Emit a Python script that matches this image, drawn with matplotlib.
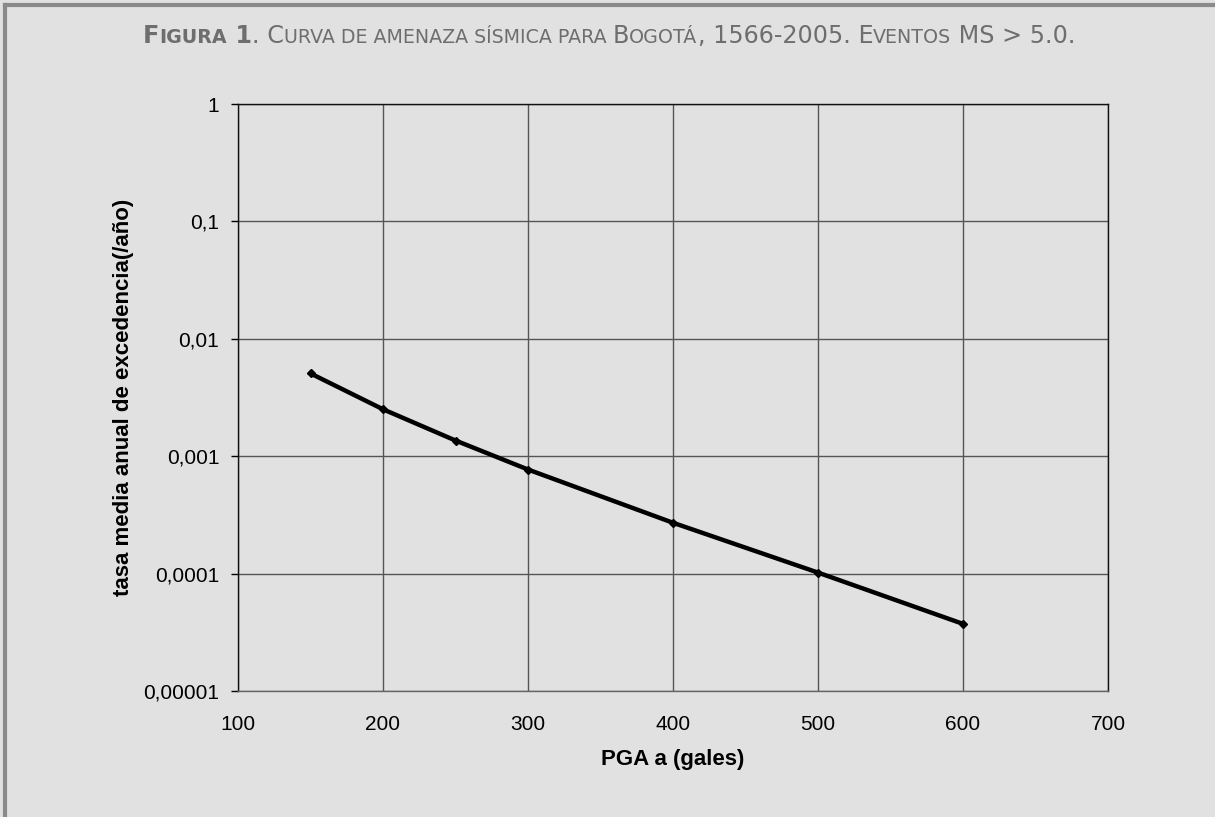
import matplotlib.pyplot as plt
from matplotlib.ticker import FixedLocator, FixedFormatter, NullLocator
from matplotlib.lines import Line2D

pga = [150, 200, 250, 300, 400, 500, 600]
rate = [0.00507, 0.00251, 0.00136, 0.00077, 0.000271, 0.000102, 0.0000373]

x_ticks = [100, 200, 300, 400, 500, 600, 700]
y_ticks = [1e-5, 1e-4, 1e-3, 1e-2, 1e-1, 1]
y_labels = ['0,00001', '0,0001', '0,001', '0,01', '0,1', '1']

bg = '#e1e1e1'
plt.rcParams['font.family'] = ['Liberation Sans', 'DejaVu Sans']

W, H = 1215, 817
fig = plt.figure(figsize=(12.15, 8.17), dpi=100, facecolor=bg)
ax = fig.add_axes([238 / W, 1 - 691 / H, (1108 - 238) / W, (691 - 104) / H])
ax.set_facecolor(bg)

ax.plot(pga, rate, color='black', lw=3.2, marker='D', ms=4.5, zorder=3, clip_on=False)
ax.set_yscale('log')
ax.set_xlim(100, 700)
ax.set_ylim(1e-5, 1)
ax.xaxis.set_major_locator(FixedLocator(x_ticks))
ax.yaxis.set_major_locator(FixedLocator(y_ticks))
ax.yaxis.set_major_formatter(FixedFormatter(y_labels))
ax.yaxis.set_minor_locator(NullLocator())
ax.grid(True, color='#555555', lw=1)
ax.tick_params(axis='x', labelsize=15, length=0, pad=17)
ax.tick_params(axis='y', labelsize=15, length=5, width=1, color='black', direction='out', pad=8.5)
for s in ax.spines.values():
    s.set_color('#111111')
    s.set_linewidth(1)
ax.spines['bottom'].set_color('#666666')

ax.set_xlabel('PGA a (gales)', fontsize=16, fontweight='bold', labelpad=11)
ax.set_ylabel('tasa media anual de excedencia(/año)', fontsize=16, fontweight='bold', labelpad=7)

# frame lines, top and left only
fig.add_artist(Line2D([5 / W, 5 / W], [0, 1 - 5 / H], transform=fig.transFigure, color='#8a8a8a', lw=3))
fig.add_artist(Line2D([5 / W, 1], [1 - 5 / H, 1 - 5 / H], transform=fig.transFigure, color='#8a8a8a', lw=3))

# small caps title built piece by piece
big, small = 17.2, 13.7
pieces = [('F', big, 'bold'), ('IGURA', small, 'bold'), (' 1', big, 'bold'),
          ('. C', big, 'normal'), ('URVA DE AMENAZA SÍSMICA PARA ', small, 'normal'),
          ('B', big, 'normal'), ('OGOTÁ', small, 'normal'), (', 1566-2005. E', big, 'normal'),
          ('VENTOS', small, 'normal'), (' MS > 5.0.', big, 'normal')]
renderer = fig.canvas.get_renderer()
texts = []
x = 0
for s, size, weight in pieces:
    t = fig.text(x, 1 - 43 / H, s, fontsize=size, fontweight=weight, color='#6e6e6e',
                 family=['DejaVu Sans'], ha='left', va='baseline')
    w = t.get_window_extent(renderer).width / fig.bbox.width
    texts.append((t, x))
    x += w
start = (142 + 1077) / 2 / W - x / 2
for t, x0 in texts:
    t.set_x(start + x0)

fig.savefig('out.png', dpi=100, facecolor=bg)
